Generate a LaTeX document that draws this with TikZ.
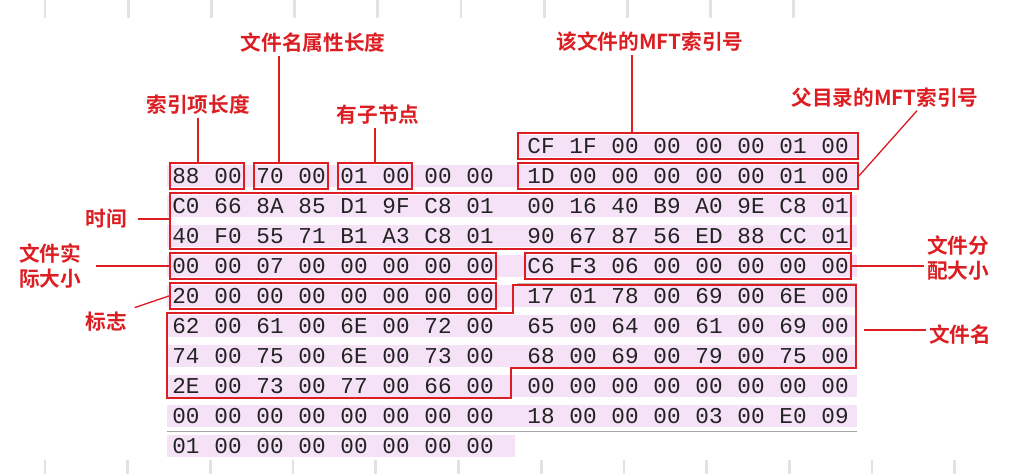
\documentclass[tikz,border=0pt]{standalone}
\usepackage{fontspec}
\setmonofont{Liberation Mono}
\newfontfamily\cjk{Noto Sans CJK SC}[BoldFont={Noto Sans CJK SC Bold}]
\usetikzlibrary{fit}
\definecolor{markred}{RGB}{220,30,35}
\definecolor{rowpink}{RGB}{246,226,247}
\definecolor{tickgray}{RGB}{226,226,226}
\definecolor{hexink}{RGB}{35,35,35}

\begin{document}
\begin{tikzpicture}[x=0.75pt, y=-0.75pt,
  byte/.style={font=\ttfamily\fontsize{17}{17}\selectfont, text=hexink,
    inner sep=0pt, minimum width=24pt, minimum height=19.5pt},
  fieldbox/.style={draw=markred, line width=1.4pt, inner sep=0pt, fit=#1},
  tag/.style={font=\cjk\bfseries\fontsize{15.5}{19}\selectfont, text=markred,
    align=center, inner sep=2pt},
  lead/.style={draw=markred, line width=1pt},
]
  \useasboundingbox (0,0) rectangle (1028,474);

  \foreach \tk in {0,...,9}
    \draw[tickgray, line width=2pt] ({45+83.2*\tk},0) -- ({45+83.2*\tk},18);
  \foreach \tk in {0,...,11}
    \draw[tickgray, line width=2pt] ({45+82.7*\tk},460) -- ({45+82.7*\tk},474);

  \fill[rowpink] (517,135) rectangle (857,157);
  \foreach \r in {1,...,9}
    \fill[rowpink] (167,{135+30*\r}) rectangle (857,{157+30*\r});
  \fill[rowpink] (167,435) rectangle (515,457);
  \draw[black!35, line width=0.7pt] (167,431) -- (857,431);
  \draw[black!25, line width=0.7pt] (517,283) -- (857,283);

  \foreach \r/\s/\row in {
      0/8/{CF,1F,00,00,00,00,01,00},
      1/0/{88,00,70,00,01,00,00,00,1D,00,00,00,00,00,01,00},
      2/0/{C0,66,8A,85,D1,9F,C8,01,00,16,40,B9,A0,9E,C8,01},
      3/0/{40,F0,55,71,B1,A3,C8,01,90,67,87,56,ED,88,CC,01},
      4/0/{00,00,07,00,00,00,00,00,C6,F3,06,00,00,00,00,00},
      5/0/{20,00,00,00,00,00,00,00,17,01,78,00,69,00,6E,00},
      6/0/{62,00,61,00,6E,00,72,00,65,00,64,00,61,00,69,00},
      7/0/{74,00,75,00,6E,00,73,00,68,00,69,00,79,00,75,00},
      8/0/{2E,00,73,00,77,00,66,00,00,00,00,00,00,00,00,00},
      9/0/{00,00,00,00,00,00,00,00,18,00,00,00,03,00,E0,09},
      10/0/{01,00,00,00,00,00,00,00}}
    \foreach \v [count=\k from \s] in \row
      \node[byte] (b\r-\k) at ({186+42*\k+19*(\k>7)},{146+30*\r}) {\v};

  \node[fieldbox={(b1-0) (b1-1)}] (idxlen) {};
  \node[fieldbox={(b1-2) (b1-3)}] (namelen) {};
  \node[fieldbox={(b1-4) (b1-5)}] (haschild) {};
  \node[fieldbox={(b0-8) (b0-15)}, inner xsep=5pt] (selfref) {};
  \node[fieldbox={(b1-8) (b1-15)}, inner xsep=5pt] (parentref) {};
  \node[fieldbox={(b2-0) (b3-15)}] (stamp) {};
  \node[fieldbox={(b4-0) (b4-7)}] (realsize) {};
  \node[fieldbox={(b4-8) (b4-15)}] (allocsize) {};
  \node[fieldbox={(b5-0) (b5-7)}] (flags) {};
  \draw[markred, line width=1pt] (513,285) -- (856,285) -- (856,368) -- (511,368)
    -- (511,398) -- (167,398) -- (167,313) -- (513,313) -- cycle;
  \coordinate (namefield) at (856,330);

  \node[tag] (tidx) at (198,105) {索引项长度};
  \node[tag] (tnamelen) at (313,43) {文件名属性长度};
  \node[tag] (tchild) at (378,115) {有子节点};
  \node[tag] (tself) at (650,42) {该文件的MFT索引号};
  \node[tag] (tparent) at (885,98) {父目录的MFT索引号};
  \node[tag] (tstamp) at (106,219) {时间};
  \node[tag] (treal) at (50,266) {文件实\\际大小};
  \node[tag] (tflags) at (106,322) {标志};
  \node[tag] (talloc) at (958,258) {文件分\\配大小};
  \node[tag] (tname) at (960,335) {文件名};

  \draw[lead] (tidx.south) -- (tidx.south |- idxlen.north);
  \draw[lead] ([xshift=-9pt]namelen.north) -- ([xshift=-9pt]namelen.north |- tnamelen.south);
  \draw[lead] (haschild.north) -- (haschild.north |- tchild.south);
  \draw[lead] ([xshift=-13.5pt]tself.south) -- ([xshift=-13.5pt]tself.south |- selfref.north);
  \draw[lead] ([xshift=24pt]tparent.south) -- (parentref.east);
  \draw[lead, shorten <=6pt] (tstamp.east) -- (tstamp.east -| stamp.west);
  \draw[lead, shorten <=9pt] (treal.east) -- (realsize.west);
  \draw[lead, shorten <=4pt] (tflags.north east) -- (flags.west);
  \draw[lead] (allocsize.east) -- (talloc.west |- allocsize.east);
  \draw[lead, shorten <=6pt] (namefield) -- (tname.west |- namefield);
\end{tikzpicture}
\end{document}
